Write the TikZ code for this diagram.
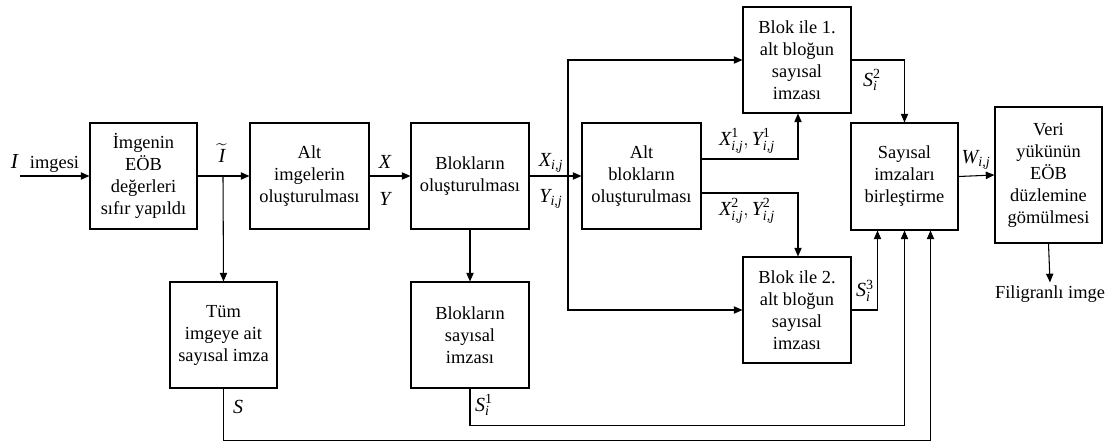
\documentclass[tikz,border=0pt]{standalone}
\usepackage{amsmath}
\usepackage{fontspec}
\setmainfont{Liberation Serif}
\newfontfamily\tnr{Liberation Serif}
\usetikzlibrary{arrows.meta,calc}
\newcommand{\vi}[1]{\text{\tnr\itshape #1}}
\newcommand{\vn}[1]{\text{\tnr #1}}
\begin{document}
\begin{tikzpicture}[x=0.75pt,y=-0.75pt,
  every node/.style={font=\tnr\fontsize{13.8}{16.5}\selectfont},
  blk/.style={draw,line width=0.8pt,inner sep=1pt,align=center,minimum height=79.5pt},
  arr/.style={line width=0.8pt,-{Triangle[length=6.5pt,width=5.5pt]}},
  lbl/.style={inner sep=0pt,font=\tnr\fontsize{15}{18}\selectfont}]
\useasboundingbox (0,0) rectangle (1110,441);
% boxes
\node[blk,minimum width=80.25pt] (b1) at (143.5,176) {İmgenin\\EÖB\\değerleri\\sıfır yapıldı};
\node[blk,minimum width=89.25pt] (b2) at (309.5,176) {Alt\\imgelerin\\oluşturulması};
\node[blk,minimum width=88.5pt] (b3) at (470,176) {Blokların\\oluşturulması};
\node[blk,minimum width=89.25pt] (b4) at (641.5,176) {Alt\\blokların\\oluşturulması};
\node[blk,minimum width=81pt] (b5) at (797,60) {Blok ile 1.\\alt bloğun\\sayısal\\imzası};
\node[blk,minimum width=80.25pt,minimum height=80.25pt] (b6) at (904.5,176.5) {Sayısal\\imzaları\\birleştirme};
\node[blk,minimum width=80.25pt,minimum height=102pt] (b7) at (1048.5,175) {Veri\\yükünün\\EÖB\\düzlemine\\gömülmesi};
\node[blk,minimum width=81pt] (b8) at (797,310) {Blok ile 2.\\alt bloğun\\sayısal\\imzası};
\node[blk,minimum width=80.25pt] (bT) at (223.5,335) {Tüm\\imgeye ait\\sayısal imza};
\node[blk,minimum width=88.5pt] (bS) at (470,335) {Blokların\\sayısal\\imzası};
\node[inner sep=0pt] (out) at (1050,294) {Filigranlı imge};
% labels
\node[inner sep=0pt] (lI) at (45,164) {{\fontsize{16}{18}\selectfont\textit{I}}\hspace{0.6em}imgesi};
\node[lbl] (lIt) at (222,153) {$\widetilde{\vi{I}}$};
\node[lbl] (lX) at (385,162) {$\vi{X}$};
\node[lbl] (lY) at (385,199) {$\vi{Y}$};
\node[lbl] (lXij) at (551,163) {$\vi{X}_{\vi{i,j}}$};
\node[lbl] (lYij) at (551,199) {$\vi{Y}_{\vi{i,j}}$};
\node[lbl] (lX1) at (747,141) {$\vi{X}^{\vn{1}}_{\vi{i,j}},\vi{Y}^{\vn{1}}_{\vi{i,j}}$};
\node[lbl] (lX2) at (747,211) {$\vi{X}^{\vn{2}}_{\vi{i,j}},\vi{Y}^{\vn{2}}_{\vi{i,j}}$};
\node[lbl] (lS2) at (872,80) {$\vi{S}^{\vn{2}}_{\vi{i}}$};
\node[lbl] (lS3) at (865,291) {$\vi{S}^{\vn{3}}_{\vi{i}}$};
\node[lbl] (lW) at (976,160) {$\vi{W}_{\vi{i,j}}$};
\node[lbl] (lS) at (238,407) {$\vi{S}$};
\node[lbl] (lS1) at (484,405) {$\vi{S}^{\vn{1}}_{\vi{i}}$};
% coordinates
\coordinate (in) at (20,176);
\coordinate (p1) at (223,176);
\coordinate (v) at (568,176);
% connectors
\draw[arr] (in) -- (b1.west);
\draw[arr] (b1.east) -- (b2.west);
\draw[arr] (p1) -- (bT.north);
\draw[arr] (b2.east) -- (b3.west);
\draw[arr] (b3.east) -- (b4.west);
\draw[arr] (b3.south) -- (bS.north);
\draw[arr] (v) |- (b5.west);
\draw[arr] (v) |- (b8.west);
\draw[arr] ($(b4.east)+(0,-17)$) -| ($(b5.south)+(1,0)$);
\draw[arr] ($(b4.east)+(0,17)$) -| ($(b8.north)+(1,0)$);
\draw[arr] (b5.east) -| (b6.north);
\draw[arr] (b8.east) -| ($(b6.south)+(-27,0)$);
\draw[arr] (bS.south) |- ++(0,37) -| (b6.south);
\draw[arr] (bT.south) |- ++(0,52) -| ($(b6.south)+(26,0)$);
\draw[arr] (b6.east) -- (b7.west);
\draw[arr] (b7.south) -- ($(out.north)+(0,-3)$);
\end{tikzpicture}
\end{document}
